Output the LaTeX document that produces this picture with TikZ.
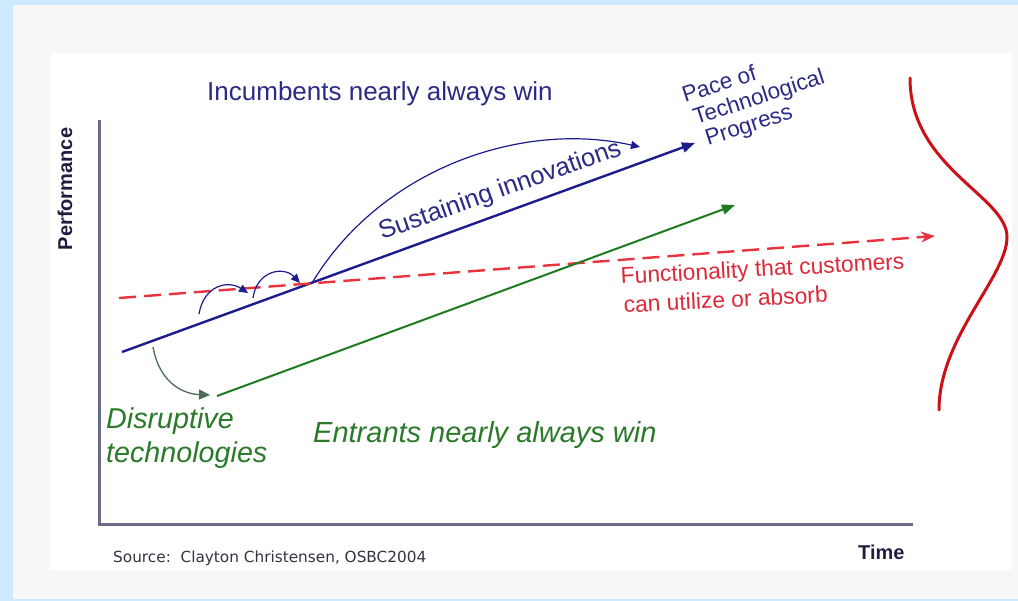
\documentclass[tikz,border=0pt]{standalone}
\usepackage{fontspec}
\setmainfont{Liberation Sans}
\newfontfamily\srcfont{DejaVu Sans}
\usetikzlibrary{arrows.meta}

\definecolor{bgblue}{HTML}{CCE9FF}
\definecolor{panelgray}{HTML}{F7F7F7}
\definecolor{navytext}{HTML}{2B2B85}
\definecolor{navyline}{HTML}{1C1C8C}
\definecolor{axisgray}{HTML}{6A6A8C}
\definecolor{axislabel}{HTML}{1E1E40}
\definecolor{srcgray}{HTML}{333344}
\definecolor{greentext}{HTML}{2A7A2A}
\definecolor{greenline}{HTML}{1E7B1E}
\definecolor{greencurve}{HTML}{4D6E55}
\definecolor{reddash}{HTML}{E8343F}
\definecolor{redtext}{HTML}{DD2A3A}
\definecolor{redwave}{HTML}{CC1018}

\begin{document}
\begin{tikzpicture}[x=1pt,y=-1pt,
  lbl/.style={inner sep=0pt, anchor=base west},
  axisline/.style={draw=axisgray, line width=3pt},
  blueln/.style={draw=navyline, line width=2.4pt, -{Triangle[length=13pt,width=10pt]}},
  smallarc/.style={draw=navyline, line width=1.2pt, -{Triangle[length=9pt,width=8pt]}},
  greenln/.style={draw=greenline, line width=2pt, -{Triangle[length=13pt,width=10pt]}},
  greenarc/.style={draw=greencurve, line width=1.3pt, -{Triangle[length=11pt,width=10pt]}},
  redln/.style={draw=reddash, line width=2.4pt, dash pattern=on 17pt off 8pt, -{Stealth[length=14pt,width=11pt]}},
  wave/.style={draw=redwave, line width=3pt, line cap=round}]

\useasboundingbox (0,0) rectangle (1018,601);

% background panels
\fill[bgblue] (0,0) rectangle (1018,601);
\fill[panelgray] (13,5) rectangle (1018,599);
\fill[white] (50,53) rectangle (1012,570);

% axes
\coordinate (ytop) at (99,120);
\coordinate (origin) at (99,524);
\coordinate (xend) at (913,524);
\draw[axisline] (ytop) -- (origin) -- (xend);

\node[inner sep=0pt, rotate=90, text=axislabel, font=\fontsize{20}{24}\selectfont\bfseries] (perf) at (65,189) {Performance};
\node[lbl, text=axislabel, font=\fontsize{20}{24}\selectfont\bfseries] (time) at (858,559) {Time};
\node[lbl, text=srcgray, font=\srcfont\fontsize{15.3}{18}\selectfont] (src) at (113,562) {Source:\ \ Clayton Christensen, OSBC2004};

% headline
\node[lbl, text=navytext, font=\fontsize{26}{31}\selectfont] (incumb) at (207,101) {Incumbents nearly always win};

% technology trajectory
\coordinate (b0) at (122,352);
\coordinate (b1) at (695,143);
\draw[blueln] (b0) -- (b1);

% customer demand trajectory
\coordinate (r0) at (119,298);
\coordinate (r1) at (935,236);
\draw[redln] (r0) -- (r1);

% disruptive trajectory
\coordinate (g0) at (217,396);
\coordinate (g1) at (735,205);
\draw[greenln] (g0) -- (g1);

% sustaining jumps
\coordinate (a1s) at (199,314);
\coordinate (a1e) at (248,293);
\draw[smallarc] (a1s) .. controls (204,285) and (228,280) .. (a1e);
\coordinate (a2s) at (253,298);
\coordinate (a2e) at (300,283);
\draw[smallarc] (a2s) .. controls (257,270) and (284,266) .. (a2e);
\coordinate (a3s) at (312,283);
\coordinate (a3e) at (640,147);
\draw[smallarc] (a3s) .. controls (380,170) and (520,120) .. (a3e);

% jump down to the disruptive line
\coordinate (dgs) at (153,347);
\coordinate (dge) at (210,395);
\draw[greenarc] (dgs) .. controls (160,385) and (185,394) .. (dge);

% labels along the lines
\node[lbl, rotate=19.5, text=navytext, font=\fontsize{25.5}{30}\selectfont] (sust) at (382,240) {Sustaining innovations};

\node[lbl, rotate=18, text=navytext, font=\fontsize{22.5}{26}\selectfont] (pace1) at (685,103) {Pace of};
\node[lbl, rotate=18, text=navytext, font=\fontsize{22.5}{26}\selectfont] (pace2) at (696,125) {Technological};
\node[lbl, rotate=18, text=navytext, font=\fontsize{22.5}{26}\selectfont] (pace3) at (708,146) {Progress};

\node[lbl, rotate=3, text=redtext, font=\fontsize{22.8}{27}\selectfont] (func1) at (621,284) {Functionality that customers};
\node[lbl, rotate=3, text=redtext, font=\fontsize{22.8}{27}\selectfont] (func2) at (624,313) {can utilize or absorb};

\node[lbl, text=greentext, font=\fontsize{28.7}{34}\selectfont\itshape] (disr1) at (106,429) {Disruptive};
\node[lbl, text=greentext, font=\fontsize{28.7}{34}\selectfont\itshape] (disr2) at (106,463) {technologies};
\node[lbl, text=greentext, font=\fontsize{29}{34}\selectfont\itshape] (entr) at (313,443) {Entrants nearly always win};

% spread of customer needs
\draw[wave] (910,78) .. controls (910,168) and (1007,196) .. (1007,237)
  .. controls (1007,277) and (939,337) .. (939,410);

\end{tikzpicture}
\end{document}
